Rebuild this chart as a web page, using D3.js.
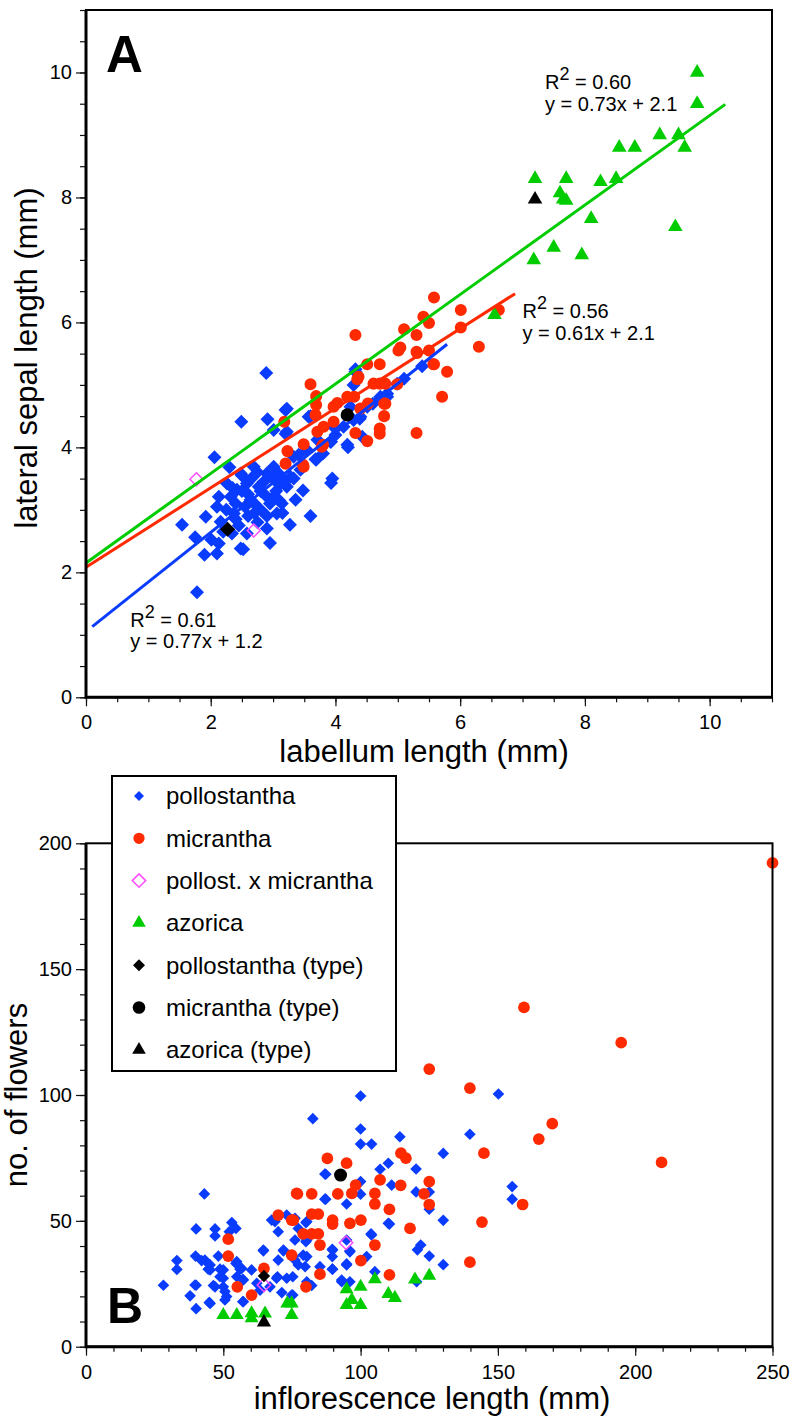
<!DOCTYPE html>
<html>
<head>
<meta charset="utf-8">
<script src="https://cdn.jsdelivr.net/npm/d3@7/dist/d3.min.js"></script>
<style>
  body { margin: 0; background: #fff; }
  svg { display: block; font-family: "Liberation Sans", Arial, Helvetica, sans-serif; }
  .tick text { font-size: 20px; fill: #000; }
  .tick line { stroke: #111; stroke-width: 1.2; }
</style>
</head>
<body>
<div id="chart"></div>
<script>
// ---------- panel A : labellum length (x) vs lateral sepal length (y), mm ----------
const aPollostantha = [
  [2.89,5.19],[2.49,4.41],[2.91,4.45],[3.20,4.60],[3.01,4.28],[3.20,4.22],[2.06,3.84],[2.30,3.68],
  [1.54,2.76],[1.75,2.56],[1.92,2.89],[1.90,2.28],[2.01,2.52],[2.10,2.30],[2.13,2.46],[2.48,2.38],
  [2.52,2.37],[1.78,1.68],[2.95,2.47],[2.90,2.70],[3.27,2.76],[3.60,2.90],[3.48,3.31],[3.93,3.43],
  [3.68,3.81],[4.20,4.00],[3.93,4.09],[4.39,4.46],[4.43,4.17],[3.60,4.50],[4.29,5.00],[4.32,5.21],
  [3.17,3.48],[3.33,3.50],[3.36,3.16],[3.14,3.10],[3.06,2.94],[2.80,3.00],[2.58,2.62],[2.34,2.62],
  [2.13,3.21],[2.10,3.05],[2.16,2.81],[2.37,2.94],[2.42,3.32],[2.48,3.58],[2.69,3.69],[2.77,3.37],
  [2.90,3.58],[3.01,3.69],[3.09,3.58],[2.64,3.16],[2.32,3.21],[2.26,3.42],[2.58,3.42],[2.90,3.21],
  [3.22,3.37],[3.44,3.64],[3.33,3.85],[3.54,3.96],[3.71,4.12],[3.97,4.33],[4.13,4.33],[4.24,4.65],
  [4.51,4.65],[4.72,4.78],[4.83,4.86],[4.99,5.02],[4.29,4.44],[5.39,5.30],[4.32,5.25],[3.22,4.62],
  [3.57,4.49],[4.72,4.81],[4.40,4.49],[4.19,4.04],[3.69,3.80],[3.92,4.09],[3.22,4.25],[3.41,3.88],
  [3.95,3.50],[3.28,3.53],[2.40,3.10],[2.50,3.30],[2.60,2.90],[2.70,3.10],[2.80,3.30],[2.90,2.90],
  [3.00,3.20],[3.10,3.40],[2.45,2.75],[2.55,3.05],[2.65,3.50],[2.75,2.80],[2.85,3.45],[2.95,3.10],
  [3.05,3.30],[3.15,2.95],[2.35,3.35],[2.25,3.00],[2.20,2.65],[2.60,3.25],[2.75,3.60],[3.00,3.50],
  [2.50,3.55],[2.40,2.85],[3.10,3.15],[2.70,2.95],[3.80,3.90],[4.00,4.20],[4.60,4.70],[5.10,5.10],
  [4.83,4.81]
];
const aMicrantha = [
  [5.58,6.40],[6.01,6.20],[5.41,6.09],[5.50,5.99],[4.32,5.80],[5.10,5.89],[5.30,5.80],[6.01,5.92],
  [6.30,5.61],[5.04,5.60],[5.01,5.55],[5.30,5.53],[5.50,5.55],[4.51,5.33],[4.71,5.33],[5.58,5.33],
  [5.79,5.21],[4.37,5.13],[4.35,5.09],[3.60,5.01],[4.61,5.02],[4.71,5.02],[4.80,5.02],[4.99,5.01],
  [3.69,4.82],[4.03,4.71],[4.19,4.81],[4.30,4.81],[3.69,4.68],[3.97,4.65],[5.71,4.81],[4.52,4.70],
  [4.40,4.62],[4.80,4.70],[4.78,4.50],[3.68,4.52],[3.97,4.41],[3.81,4.33],[3.71,4.25],[4.32,4.23],
  [4.71,4.30],[4.71,4.22],[4.51,4.10],[5.30,4.23],[3.80,4.04],[3.49,4.05],[3.23,3.94],[3.48,3.72],
  [3.20,3.74],[3.18,4.41],[6.62,6.20],[5.31,5.51],[5.57,5.33],[4.78,4.70],[3.78,4.01],[3.49,3.69]
];
const aHybrid = [[1.77,3.49],[2.69,2.67]];
const aAzorica = [
  [9.80,10.0],[9.80,9.50],[9.50,9.00],[9.20,9.00],[9.60,8.80],[8.55,8.80],[8.80,8.80],[8.50,8.30],
  [8.25,8.25],[7.20,8.30],[7.70,8.30],[7.60,8.07],[7.65,7.97],[7.70,7.95],[8.10,7.66],[9.45,7.53],
  [7.50,7.20],[7.18,7.00],[7.95,7.08],[6.55,6.12]
];
const aPollostanthaType = [[2.27,2.69]];
const aMicranthaType = [[4.19,4.52]];
const aAzoricaType = [[7.20,7.97]];

// regression lines as drawn (end points, data units)
const aFitAzorica = [[0,2.15],[10.25,9.49]];
const aFitMicrantha = [[0,2.08],[6.88,6.46]];
const aFitPollostantha = [[0.1,1.13],[5.79,5.65]];
const aFitR2 = ["0.60","0.56","0.61"];
const aFitEq = ["y = 0.73x + 2.1","y = 0.61x + 2.1","y = 0.77x + 1.2"];

const aTicks = [0,2,4,6,8,10];

// ---------- panel B : inflorescence length (x, mm) vs no. of flowers (y) ----------
const bPollostantha = [
  [28.2,24.4],[33.1,34.2],[33.1,30.7],[37.9,20.2],[40.1,46.8],[39.9,36.0],[40.1,24.4],[40.1,15.1],
  [43.1,60.7],[42.1,34.2],[44.5,30.8],[47.0,46.8],[47.0,44.0],[46.4,24.3],[44.9,17.6],[48.2,36.0],
  [48.8,30.8],[48.8,27.8],[50.0,23.8],[51.2,19.9],[53.1,49.3],[54.6,47.0],[52.2,45.7],[54.9,33.8],
  [56.1,30.8],[57.3,26.5],[54.9,27.8],[57.3,17.9],[60.3,30.5],[62.2,25.2],[64.6,38.1],[63.4,22.5],
  [67.0,23.8],[67.6,50.3],[70.0,45.7],[70.0,34.4],[69.7,27.8],[71.3,21.5],[71.9,38.1],[73.1,52.3],
  [73.1,27.2],[74.9,20.5],[75.5,35.8],[77.3,47.0],[77.3,32.5],[79.1,36.4],[80.4,42.4],[80.4,49.7],
  [79.8,31.8],[82.2,24.3],[82.6,90.6],[87.0,58.6],[87.0,68.6],[89.7,38.7],[89.7,35.8],[89.7,30.8],
  [94.9,56.7],[94.9,32.5],[93.1,25.8],[96.1,37.7],[100.0,99.6],[100.0,86.5],[100.0,80.5],[104.0,80.5],
  [100.0,65.6],[100.0,60.6],[102.2,35.8],[104.0,44.4],[105.2,29.8],[107.1,70.5],[110.1,72.9],[110.1,49.0],
  [111.3,64.2],[114.3,83.4],[120.2,70.6],[120.2,61.5],[125.0,61.5],[125.0,54.6],[130.1,76.8],[130.1,50.2],
  [139.8,84.4],[150.2,100.4],[155.2,63.6],[155.2,58.6],[121.9,40.4],[120.7,38.5],[125.0,36.0],[130.1,32.6],
  [120.4,25.8],[45.2,32.5],[43.3,34.4],[45.2,30.5],[50.0,30.5],[50.0,27.2],[47.0,23.8],[50.6,21.9],
  [50.6,18.6],[45.2,17.2],[54.6,33.1],[56.7,31.1],[57.1,26.8],[57.1,17.9],[64.6,38.4],[68.8,49.7],
  [71.9,38.4],[69.4,27.2],[76.1,51.0],[80.1,49.3],[76.1,42.4],[80.1,41.7],[94.9,42.4],[89.8,38.4],
  [96.1,38.1],[80.4,35.8],[76.1,34.4],[85.2,31.8],[89.8,30.8],[94.9,32.9],[93.1,26.5],[96.1,25.8],
  [80.4,25.8],[75.3,27.8],[75.3,20.5],[87.3,68.5],[87.3,58.6],[103.8,44.8],[39.7,24.5],[110.5,48.7]
];
const bMicrantha = [
  [250.0,192.2],[159.5,134.8],[194.9,120.8],[125.0,110.3],[139.8,102.7],[169.8,88.6],[164.9,82.5],[144.9,76.9],
  [209.6,73.2],[114.7,76.9],[116.5,74.9],[125.0,65.6],[114.6,64.1],[159.0,56.5],[125.0,56.5],[123.1,60.7],
  [144.2,49.5],[110.5,54.6],[118.0,47.0],[139.8,33.6],[110.5,28.5],[107.1,66.3],[87.9,74.8],[94.9,72.9],
  [77.0,60.7],[82.2,60.7],[91.7,60.7],[98.2,64.2],[96.8,60.9],[105.2,60.9],[105.2,56.7],[75.5,50.3],
  [82.2,52.7],[84.6,52.7],[89.8,50.3],[89.8,48.7],[96.1,49.0],[100.1,50.3],[79.1,44.8],[82.2,44.8],
  [84.6,44.8],[85.2,40.4],[105.2,40.4],[74.9,36.4],[100.1,34.2],[85.2,28.8],[80.1,23.8],[51.8,42.7],
  [51.8,36.0],[55.1,23.8],[60.3,20.5],[64.8,31.1],[70.0,52.3],[74.9,50.3],[76.7,60.9]
];
const bHybrid = [[94.7,41.3],[64.8,24.5]];
const bAzorica = [
  [50.0,12.6],[54.9,12.6],[60.3,13.3],[60.3,11.3],[65.2,13.2],[73.3,17.2],[74.9,17.2],[74.9,12.6],
  [94.9,22.8],[100.0,23.8],[105.2,26.8],[119.8,26.7],[125.0,28.2],[110.1,20.9],[112.5,19.4],[94.9,16.6],
  [100.0,16.6],[96.8,18.6]
];
const bPollostanthaType = [[64.8,28.1]];
const bMicranthaType = [[92.7,68.2]];
const bAzoricaType = [[64.8,9.7]];

const bXTicks = [0,50,100,150,200,250];
const bYTicks = [0,50,100,150,200];

const legendLabels = ["pollostantha","micrantha","pollost. x micrantha","azorica",
  "pollostantha (type)","micrantha (type)","azorica (type)"];

// ---------- styles ----------
const BLUE = "#0a3cff", RED = "#ff2a00", GREEN = "#00cc00", PINK = "#ff4cff";

// square diamond (d3.symbolDiamond is too narrow)
const squareDiamond = {
  draw(ctx, size) {
    const r = Math.sqrt(size / 2);
    ctx.moveTo(0, -r); ctx.lineTo(r, 0); ctx.lineTo(0, r); ctx.lineTo(-r, 0); ctx.closePath();
  }
};

const W = 791, H = 1419;
const svg = d3.select("#chart").append("svg").attr("width", W).attr("height", H)
  .attr("viewBox", [0, 0, W, H]);
svg.append("rect").attr("width", W).attr("height", H).attr("fill", "#fff");

function drawAxes(g, x, y, xMajor, xMinor, yMajor, yMinor) {
  const bottom = y.range()[0], left = x.range()[0];
  const clean = s => s.select(".domain").remove();

  g.append("g").attr("transform", `translate(0,${bottom})`)
    .call(d3.axisBottom(x).tickValues(xMinor).tickSize(5).tickFormat("")).call(clean);
  g.append("g").attr("transform", `translate(0,${bottom})`)
    .call(d3.axisBottom(x).tickValues(xMajor).tickSize(9).tickPadding(9)).call(clean);

  g.append("g").attr("transform", `translate(${left},0)`)
    .call(d3.axisLeft(y).tickValues(yMinor).tickSize(6).tickFormat("")).call(clean);
  g.append("g").attr("transform", `translate(${left},0)`)
    .call(d3.axisLeft(y).tickValues(yMajor).tickSize(10).tickPadding(4)).call(clean);

  g.selectAll(".tick text").attr("font-family", null).attr("font-size", null);
}

function drawFrame(g, x, y) {
  const [x0, x1] = x.range(), [y0, y1] = y.range();
  g.append("rect").attr("x", x0).attr("y", y1).attr("width", x1 - x0).attr("height", y0 - y1)
    .attr("fill", "none").attr("stroke", "#000").attr("stroke-width", 2);
  g.append("path").attr("d", `M${x0},${y1}V${y0}H${x1}`)
    .attr("fill", "none").attr("stroke", "#000").attr("stroke-width", 3);
}

function drawMarks(g, data, x, y, type, size, fill, stroke) {
  g.append("g").selectAll("path").data(data).join("path")
    .attr("d", d3.symbol(type, size))
    .attr("transform", d => `translate(${x(d[0])},${y(d[1])})`)
    .attr("fill", fill || "none")
    .attr("stroke", stroke || "none")
    .attr("stroke-width", stroke ? 1.5 : null);
}

function drawFit(g, pts, x, y, color) {
  g.append("path").datum(pts)
    .attr("d", d3.line().x(d => x(d[0])).y(d => y(d[1])))
    .attr("fill", "none").attr("stroke", color).attr("stroke-width", 3);
}

function fitLabel(g, px, py, r2, eq) {
  const t = g.append("text").attr("x", px).attr("y", py).attr("font-size", 20);
  t.append("tspan").text("R");
  t.append("tspan").attr("dy", -9).attr("font-size", 18).text("2");
  t.append("tspan").attr("dy", 9).text(" = " + r2);
  g.append("text").attr("x", px).attr("y", py + 21.5).attr("font-size", 20).text(eq);
}

// ---------- panel A ----------
{
  const x = d3.scaleLinear().domain([0, 11]).range([86, 772]);
  const y = d3.scaleLinear().domain([0, 11]).range([697.3, 10]);
  const g = svg.append("g");

  drawAxes(g, x, y, aTicks, d3.range(0, 11.01, 0.5), aTicks, d3.range(0, 11.01, 0.5));

  drawMarks(g, aPollostantha, x, y, squareDiamond, 98, BLUE);
  drawMarks(g, aHybrid, x, y, squareDiamond, 84, "none", PINK);
  drawMarks(g, aMicrantha, x, y, d3.symbolCircle, 114, RED);
  drawMarks(g, aAzorica, x, y, d3.symbolTriangle, 92, GREEN);

  drawFit(g, aFitAzorica, x, y, GREEN);
  drawFit(g, aFitMicrantha, x, y, RED);
  drawFit(g, aFitPollostantha, x, y, BLUE);

  drawMarks(g, aPollostanthaType, x, y, squareDiamond, 115, "#000");
  drawMarks(g, aMicranthaType, x, y, d3.symbolCircle, 140, "#000");
  drawMarks(g, aAzoricaType, x, y, d3.symbolTriangle, 92, "#000");

  drawFrame(g, x, y);

  fitLabel(g, x(7.36), y(9.73), aFitR2[0], aFitEq[0]);
  fitLabel(g, x(7.0), y(6.07), aFitR2[1], aFitEq[1]);
  fitLabel(g, x(0.71), y(1.13), aFitR2[2], aFitEq[2]);

  g.append("text").attr("x", 106).attr("y", 72).attr("font-size", 51)
    .attr("font-weight", "bold").text("A");

  g.append("text").attr("x", 424).attr("y", 762).attr("text-anchor", "middle")
    .attr("font-size", 31).text("labellum length (mm)");
  g.append("text").attr("transform", "translate(37,358) rotate(-90)").attr("text-anchor", "middle")
    .attr("font-size", 31).text("lateral sepal length (mm)");
}

// ---------- panel B ----------
{
  const x = d3.scaleLinear().domain([0, 250]).range([86, 772.5]);
  const y = d3.scaleLinear().domain([0, 200]).range([1346.7, 843.3]);
  const g = svg.append("g");

  drawAxes(g, x, y, bXTicks, d3.range(0, 251, 10), bYTicks, d3.range(0, 201, 10));

  drawMarks(g, bPollostantha, x, y, squareDiamond, 68, BLUE);
  drawMarks(g, bMicrantha, x, y, d3.symbolCircle, 108, RED);
  drawMarks(g, bAzorica, x, y, d3.symbolTriangle, 84, GREEN);
  drawMarks(g, bHybrid, x, y, squareDiamond, 90, "none", PINK);
  drawMarks(g, bPollostanthaType, x, y, squareDiamond, 76, "#000");
  drawMarks(g, bMicranthaType, x, y, d3.symbolCircle, 133, "#000");
  drawMarks(g, bAzoricaType, x, y, d3.symbolTriangle, 88, "#000");

  drawFrame(g, x, y);

  g.append("text").attr("x", 107).attr("y", 1323).attr("font-size", 50)
    .attr("font-weight", "bold").text("B");

  g.append("text").attr("x", 432).attr("y", 1409).attr("text-anchor", "middle")
    .attr("font-size", 31).text("inflorescence length (mm)");
  g.append("text").attr("transform", "translate(27,1095) rotate(-90)").attr("text-anchor", "middle")
    .attr("font-size", 31).text("no. of flowers");
}

// ---------- legend ----------
{
  const legendMarks = [
    { type: squareDiamond, size: 50, fill: BLUE },
    { type: d3.symbolCircle, size: 100, fill: RED },
    { type: squareDiamond, size: 90, fill: "none", stroke: PINK },
    { type: d3.symbolTriangle, size: 80, fill: GREEN },
    { type: squareDiamond, size: 72, fill: "#000" },
    { type: d3.symbolCircle, size: 125, fill: "#000" },
    { type: d3.symbolTriangle, size: 80, fill: "#000" }
  ];
  const lg = svg.append("g");
  lg.append("rect").attr("x", 112).attr("y", 776).attr("width", 284).attr("height", 295)
    .attr("fill", "#fff").attr("stroke", "#000").attr("stroke-width", 2);

  const rows = lg.selectAll("g.row").data(legendLabels).join("g")
    .attr("class", "row")
    .attr("transform", (d, i) => `translate(139,${796 + i * 42.3})`);
  rows.append("path")
    .attr("d", (d, i) => d3.symbol(legendMarks[i].type, legendMarks[i].size)())
    .attr("fill", (d, i) => legendMarks[i].fill)
    .attr("stroke", (d, i) => legendMarks[i].stroke || "none")
    .attr("stroke-width", 1.5);
  rows.append("text").attr("x", 27).attr("dy", "0.35em").attr("font-size", 24).text(d => d);
}
</script>
</body>
</html>
